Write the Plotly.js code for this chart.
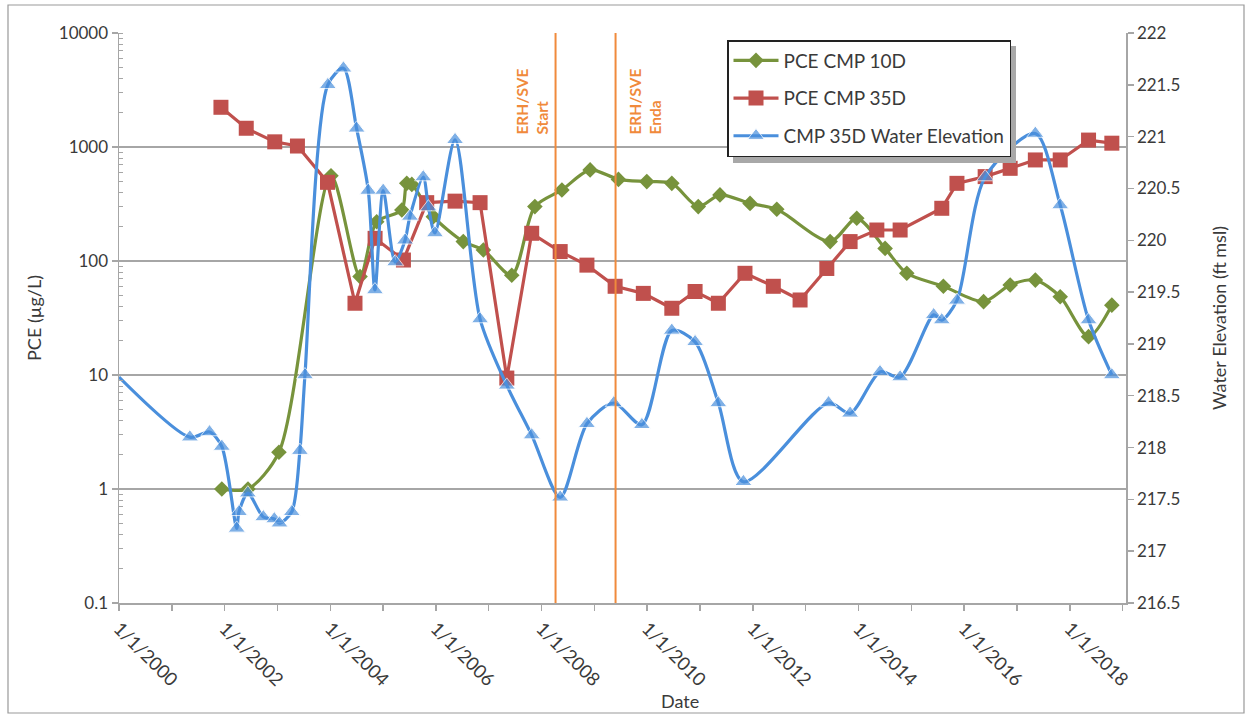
<!DOCTYPE html>
<html>
<head>
<meta charset="utf-8">
<script src="https://cdn.plot.ly/plotly-3.0.1.min.js"></script>
<style>html,body{margin:0;padding:0;background:#fff;}#chart{width:1250px;height:719px;}</style>
</head>
<body>
<div id="chart"></div>
<script>
// ---- Data ----
const dates10D = ['2001-12-12','2002-06-11','2003-01-11','2004-01-06','2004-07-25','2004-11-17','2005-05-10','2005-06-13','2005-07-18','2005-12-14','2006-07-09','2006-11-25','2007-06-09','2007-11-16','2008-05-21','2008-12-02','2009-06-16','2009-12-29','2010-06-20','2010-12-20','2011-05-19','2011-12-13','2012-06-15','2013-06-19','2013-12-20','2014-07-04','2014-12-01','2015-08-11','2016-05-15','2016-11-15','2017-05-08','2017-10-27','2018-05-11','2018-10-19'];
const pce10D = [1.0,1.0,2.1,560,73,221,280,480,470,245,148,125,75,300,420,630,520,497,480,300,380,320,284,148,237,129,78,60,44,61.5,68,48.6,21.7,41];

const dates35D = ['2001-12-06','2002-05-30','2002-12-13','2003-05-19','2003-12-13','2004-06-20','2004-11-06','2005-05-21','2005-10-29','2006-05-13','2006-11-02','2007-05-06','2007-10-25','2008-05-09','2008-11-10','2009-05-24','2009-12-05','2010-06-20','2010-11-28','2011-05-08','2011-11-08','2012-05-22','2012-11-23','2013-05-27','2013-11-04','2014-05-08','2014-10-16','2015-07-31','2015-11-13','2016-05-26','2016-11-15','2017-05-08','2017-10-27','2018-05-11','2018-10-19'];
const pce35D = [2230,1460,1110,1020,490,42.6,158,102,325,335,325,9.4,175,121,92,60,52,38.5,54,42.6,78,60,45.5,86,148,187,187,290,480,550,650,770,770,1150,1080];

const datesWL = ['2000-01-01','2001-05-05','2001-09-18','2001-12-12','2002-03-25','2002-04-10','2002-06-10','2002-09-25','2002-12-10','2003-01-15','2003-04-10','2003-06-05','2003-07-10','2003-12-15','2004-04-01','2004-07-01','2004-09-20','2004-11-05','2005-01-01','2005-03-25','2005-06-01','2005-07-05','2005-10-05','2005-11-10','2005-12-25','2006-05-13','2006-11-02','2007-05-06','2007-10-25','2008-05-09','2008-11-10','2009-05-15','2009-11-25','2010-06-20','2010-11-28','2011-05-08','2011-10-28','2013-06-08','2013-11-04','2014-05-30','2014-10-16','2015-06-05','2015-07-31','2015-11-13','2016-05-26','2017-05-08','2017-10-27','2018-05-11','2018-10-19'];
const elevWL = [218.68,218.10,218.15,218.01,217.22,217.38,217.56,217.33,217.31,217.27,217.38,217.97,218.70,221.50,221.66,221.08,220.48,219.52,220.48,219.79,220.00,220.23,220.61,220.32,220.07,220.97,219.24,218.60,218.12,217.52,218.23,218.43,218.22,219.13,219.02,218.43,217.67,218.43,218.33,218.73,218.68,219.28,219.23,219.42,220.61,221.03,220.34,219.23,218.70];

const erhStart = '2008-04-07';
const erhEnd = '2009-05-27';
const pceTickVals = [0.1, 1, 10, 100, 1000, 10000];
const pceTickText = ['0.1', '1', '10', '100', '1000', '10000'];
const seriesNames = ['PCE CMP 10D', 'PCE CMP 35D', 'CMP 35D Water Elevation'];

// ---- Styling ----
const FONT = 'Lato, "Open Sans", sans-serif';
const GREEN = '#77933C', RED = '#C0504D', BLUE = '#4a8fdc', ORANGE = '#F08A3C', GRID = '#a6a6a6', TXT = '#3a3a3a';

const traces = [
  {x: dates10D, y: pce10D, name: seriesNames[0], type: 'scatter', mode: 'lines+markers',
   line: {color: GREEN, width: 3.2, shape: 'spline', smoothing: 0.8},
   marker: {symbol: 'diamond', size: 12, color: GREEN}, legendgroup: 'a'},
  {x: dates35D, y: pce35D, name: seriesNames[1], type: 'scatter', mode: 'lines+markers',
   line: {color: RED, width: 3.2},
   marker: {symbol: 'square', size: 15, color: RED}, legendgroup: 'b'},
  {x: datesWL, y: elevWL, name: seriesNames[2], type: 'scatter', mode: 'lines+markers', yaxis: 'y2',
   line: {color: BLUE, width: 3.2, shape: 'spline', smoothing: 0.8},
   marker: {symbol: 'triangle-up', size: elevWL.map((v, i) => i === 0 ? 0 : 15), color: BLUE}, legendgroup: 'c'}
];

const L = 119, R = 1126, T = 33, B = 603;
const px = v => (v - L) / (R - L);
const py = v => (B - v) / (B - T);

const layout = {
  width: 1250, height: 719,
  margin: {l: L, r: 1250 - R, t: T, b: 719 - B, pad: 0},
  paper_bgcolor: '#fff', plot_bgcolor: '#fff',
  font: {family: FONT, size: 17, color: TXT},
  showlegend: true,
  legend: {x: px(727), y: py(40), xanchor: 'left', yanchor: 'top', bgcolor: '#fff',
           bordercolor: '#222', borderwidth: 1.5, font: {family: FONT, size: 19, color: TXT},
           itemwidth: 45, tracegroupgap: 10, traceorder: 'grouped'},
  xaxis: {type: 'date', range: ['2000-01-01', '2019-01-25'], tick0: '2000-01-01', dtick: 'M24',
          tickformat: '%-m/%-d/%Y', tickangle: 45, ticks: 'outside', ticklen: 6, tickcolor: GRID, tickwidth: 1.5,
          minor: {dtick: 'M12', ticks: 'outside', ticklen: 6, tickcolor: GRID, tickwidth: 1.5, showgrid: false},
          showline: true, linecolor: GRID, linewidth: 1.5, showgrid: false, zeroline: false,
          tickfont: {family: FONT, size: 18.5, color: TXT}, automargin: false},
  yaxis: {type: 'log', range: [-1, 4], tickmode: 'array', tickvals: pceTickVals, ticktext: pceTickText,
          ticks: 'outside', ticklen: 6, tickcolor: GRID, tickwidth: 1.5,
          minor: {ticks: 'inside', ticklen: 4, tickcolor: GRID, tickwidth: 1, dtick: 'D1', showgrid: false},
          showline: true, linecolor: GRID, linewidth: 1.5, showgrid: true, gridcolor: GRID, gridwidth: 1.5,
          zeroline: false, tickfont: {family: FONT, size: 17, color: TXT}, automargin: false,
          title: {text: 'PCE (µg/L)', font: {family: FONT, size: 18, color: TXT}, standoff: 12}},
  yaxis2: {overlaying: 'y', side: 'right', range: [216.5, 222], dtick: 0.5, tick0: 216.5,
           ticks: 'outside', ticklen: 6, tickcolor: GRID, tickwidth: 1.5,
           showline: true, linecolor: GRID, linewidth: 1.5, showgrid: false, zeroline: false,
           tickfont: {family: FONT, size: 17, color: TXT}, automargin: false,
           title: {text: 'Water Elevation (ft msl)', font: {family: FONT, size: 18, color: TXT}, standoff: 34}},
  shapes: [
    {type: 'rect', xref: 'paper', yref: 'paper', x0: px(8), x1: px(1244), y0: py(713), y1: py(5),
     line: {color: '#999', width: 1.2}, fillcolor: 'rgba(0,0,0,0)', layer: 'below'},
    {type: 'line', xref: 'x', yref: 'paper', x0: erhStart, x1: erhStart, y0: 0, y1: 1, line: {color: ORANGE, width: 2}},
    {type: 'line', xref: 'x', yref: 'paper', x0: erhEnd, x1: erhEnd, y0: 0, y1: 1, line: {color: ORANGE, width: 2}},
    // drop shadow of the legend box
    {type: 'rect', xref: 'paper', yref: 'paper', x0: px(733), x1: px(1016), y0: py(163), y1: py(46),
     fillcolor: '#a8a8a8', line: {width: 0}, layer: 'above'}
  ],
  annotations: [
    {xref: 'x', yref: 'paper', x: erhStart, y: py(137), xanchor: 'right', yanchor: 'bottom', xshift: -3,
     text: '<b>ERH/SVE<br>Start</b>', textangle: -90, align: 'left', showarrow: false,
     font: {family: FONT, size: 15.5, color: ORANGE}},
    {xref: 'x', yref: 'paper', x: erhEnd, y: py(137), xanchor: 'left', yanchor: 'bottom', xshift: 8,
     text: '<b>ERH/SVE<br>Enda</b>', textangle: -90, align: 'left', showarrow: false,
     font: {family: FONT, size: 15.5, color: ORANGE}},
    {xref: 'paper', yref: 'paper', x: px(680), y: py(701), xanchor: 'center', yanchor: 'middle',
     text: 'Date', showarrow: false, font: {family: FONT, size: 18, color: TXT}}
  ]
};

Plotly.newPlot('chart', traces, layout, {staticPlot: true, displayModeBar: false});
</script>
</body>
</html>
